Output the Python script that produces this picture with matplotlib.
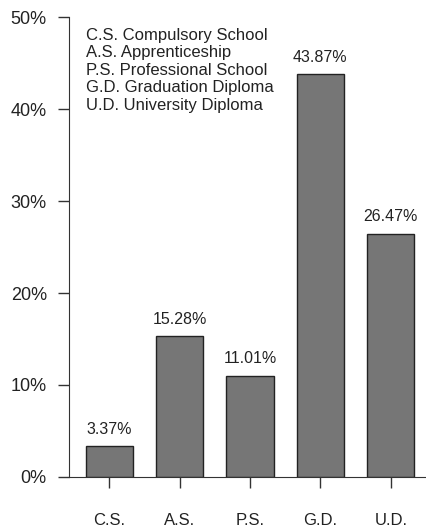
import numpy as np
import matplotlib.pyplot as plt

plt.rcParams['font.family'] = ['Liberation Sans', 'DejaVu Sans']

# data
categories = ['C.S.', 'A.S.', 'P.S.', 'G.D.', 'U.D.']
shares = [3.37, 15.28, 11.01, 43.87, 26.47]
legend_lines = ['C.S. Compulsory School',
                'A.S. Apprenticeship',
                'P.S. Professional School',
                'G.D. Graduation Diploma',
                'U.D. University Diploma']
yticks = [0, 10, 20, 30, 40, 50]

fig = plt.figure(figsize=(4.26, 5.28), dpi=100)
ax = fig.add_axes([0.162, 0.097, 0.838, 0.87])

x = np.arange(len(categories))
bars = ax.bar(x, shares, width=0.67, color='#767676', edgecolor='#222222', linewidth=1.0)

# value labels on top of each bar
for xi, v in zip(x, shares):
    ax.text(xi, v + 1.0, '%.2f%%' % v, ha='center', va='bottom', fontsize=11.5, color='#222222')

ax.set_xlim(-0.57, 4.5)
ax.set_ylim(0, 50)
ax.set_yticks(yticks)
ax.set_yticklabels(['%d%%' % t for t in yticks], fontsize=13, color='#222222')
ax.set_xticks(x)
ax.set_xticklabels(categories, fontsize=12, color='#222222')

ax.spines['top'].set_visible(False)
ax.spines['right'].set_visible(False)
ax.spines['left'].set_color('#333333')
ax.spines['bottom'].set_color('#333333')
ax.tick_params(axis='y', length=8, width=1, direction='out', pad=8, color='#333333')
ax.tick_params(axis='x', length=8, width=1, direction='out', pad=18, color='#333333')

ax.text(0.047, 0.978, '\n'.join(legend_lines), transform=ax.transAxes,
        ha='left', va='top', fontsize=12, linespacing=1.22, color='#222222')

fig.savefig('out.png', dpi=100)
